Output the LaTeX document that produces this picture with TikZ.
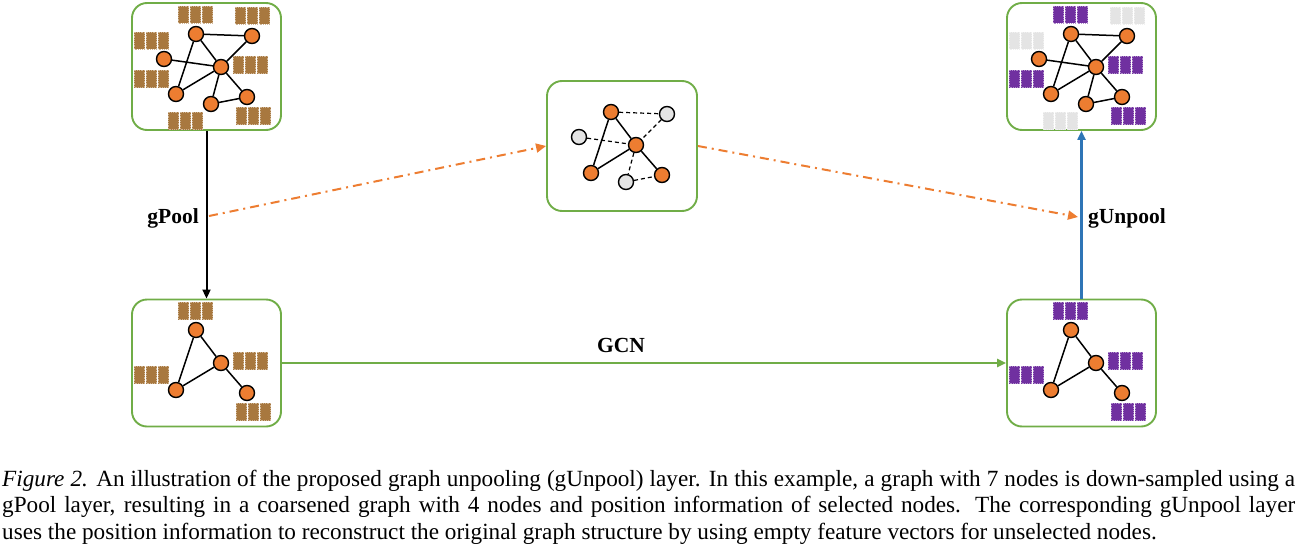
\documentclass[tikz,border=0pt]{standalone}
\usepackage{fontspec}
\setmainfont{Liberation Serif}
\usetikzlibrary{arrows.meta}
\definecolor{boxgreen}{HTML}{70AD47}
\definecolor{nodeorange}{HTML}{ED7D31}
\definecolor{nodegray}{HTML}{E4E4E4}
\definecolor{featbrown}{HTML}{A8783F}
\definecolor{featpurple}{HTML}{7030A0}
\definecolor{featgray}{HTML}{E4E4E4}
\definecolor{arrblue}{HTML}{2E75B6}
\tikzset{
  panel/.style={draw=boxgreen, line width=1.9pt, rounded corners=15pt, minimum width=149pt, minimum height=127pt, inner sep=0pt},
  gn/.style={circle, draw=black, line width=1.4pt, fill=nodeorange, minimum size=15pt, inner sep=0pt},
  gg/.style={gn, fill=nodegray},
  ge/.style={line width=1.5pt},
  gd/.style={line width=1.2pt, dash pattern=on 4pt off 3pt},
  feat/.style={fill=#1, draw=#1!55!white, line width=0.8pt, densely dotted},
  lbl/.style={font=\fontsize{21.5}{24}\selectfont\bfseries, inner sep=0pt},
  captext/.style={font=\fontsize{23.2}{26.5}\selectfont, inner sep=0pt, anchor=base west},
  tip/.style={-{Triangle[length=9pt,width=8pt]}},
  blackarr/.style={tip, line width=2pt, draw=black},
  bluearr/.style={tip, line width=2.5pt, draw=arrblue},
  greenarr/.style={tip, line width=2.2pt, draw=boxgreen},
  orangearr/.style={-{Triangle[length=10pt,width=9pt]}, line width=2pt, draw=nodeorange, dash pattern=on 9pt off 5pt on 2pt off 5pt},
}
\newcommand\fblk[3]{%
  \foreach \k in {0,1,2} {\draw[feat=#3] ({#1+12*\k},#2) rectangle ++(10.5,17.5);}%
}
% full graph: prefix, dx, dy
\newcommand\fullgraph[3]{%
  \node[gn] (#1A) at (196+#2,34+#3) {};
  \node[gn] (#1B) at (252+#2,36+#3) {};
  \node[gn] (#1C) at (164+#2,59+#3) {};
  \node[gn] (#1D) at (221+#2,67+#3) {};
  \node[gn] (#1E) at (176+#2,94+#3) {};
  \node[gn] (#1F) at (211+#2,104+#3) {};
  \node[gn] (#1G) at (247+#2,97+#3) {};
  \draw[ge] (#1A) -- (#1B);
  \draw[ge] (#1A) -- (#1D);
  \draw[ge] (#1A) -- (#1E);
  \draw[ge] (#1B) -- (#1D);
  \draw[ge] (#1C) -- (#1D);
  \draw[ge] (#1D) -- (#1E);
  \draw[ge] (#1D) -- (#1F);
  \draw[ge] (#1D) -- (#1G);
  \draw[ge] (#1F) -- (#1G);
}
\newcommand\smallgraph[3]{%
  \node[gn] (#1A) at (196+#2,34+#3) {};
  \node[gn] (#1D) at (221+#2,67+#3) {};
  \node[gn] (#1E) at (176+#2,94+#3) {};
  \node[gn] (#1G) at (247+#2,97+#3) {};
  \draw[ge] (#1A) -- (#1D);
  \draw[ge] (#1A) -- (#1E);
  \draw[ge] (#1D) -- (#1E);
  \draw[ge] (#1D) -- (#1G);
}
\begin{document}
\begin{tikzpicture}[x=1pt,y=-1pt]
\useasboundingbox (0,0) rectangle (1297,551);
% panels
\node[panel] (tl) at (206.5,66.5) {};
\node[panel] (tr) at (1081.5,66.5) {};
\node[panel] (bl) at (206.5,363) {};
\node[panel] (br) at (1081.5,363) {};
\node[panel, minimum width=150pt, minimum height=130pt] (mid) at (622,146) {};
% top-left features
\fblk{178}{6}{featbrown}
\fblk{235}{7}{featbrown}
\fblk{134}{32}{featbrown}
\fblk{233}{56}{featbrown}
\fblk{134}{70}{featbrown}
\fblk{168}{112}{featbrown}
\fblk{236}{107}{featbrown}
\fullgraph{t}{0}{0}
% top-right features
\fblk{1053}{6}{featpurple}
\fblk{1110}{7}{featgray}
\fblk{1009}{32}{featgray}
\fblk{1108}{56}{featpurple}
\fblk{1009}{70}{featpurple}
\fblk{1043}{112}{featgray}
\fblk{1111}{107}{featpurple}
\fullgraph{r}{875}{0}
% bottom-left
\fblk{178}{302}{featbrown}
\fblk{233}{352}{featbrown}
\fblk{134}{366}{featbrown}
\fblk{236}{403}{featbrown}
\smallgraph{b}{0}{296}
% bottom-right
\fblk{1053}{302}{featpurple}
\fblk{1108}{352}{featpurple}
\fblk{1009}{366}{featpurple}
\fblk{1111}{403}{featpurple}
\smallgraph{s}{875}{296}
% middle graph
\node[gn] (mA) at (611,112) {};
\node[gg] (mB) at (667,114) {};
\node[gg] (mC) at (579,137) {};
\node[gn] (mD) at (636,145) {};
\node[gn] (mE) at (591,173) {};
\node[gg] (mF) at (626,182) {};
\node[gn] (mG) at (662,175) {};
\draw[ge] (mA) -- (mD);
\draw[ge] (mA) -- (mE);
\draw[ge] (mD) -- (mE);
\draw[ge] (mD) -- (mG);
\draw[gd] (mA) -- (mB);
\draw[gd] (mB) -- (mD);
\draw[gd] (mC) -- (mD);
\draw[gd] (mD) -- (mF);
\draw[gd] (mF) -- (mG);
% connectors
\draw[blackarr] (tl.south) -- (bl.north);
\draw[bluearr] (br.north) -- (tr.south);
\draw[greenarr] (bl.east) -- (br.west);
\coordinate (pstart) at (209,216);
\coordinate (uend) at (1078,217);
\draw[orangearr] (pstart) -- (mid.west);
\draw[orangearr] (mid.east) -- (uend);
% labels
\node[lbl, anchor=east] (lpool) at (199,218) {gPool};
\node[lbl, anchor=west] (lunpool) at (1088,218) {gUnpool};
\node[lbl] (lgcn) at (621,345) {GCN};
% caption
\node[captext] (c1) at (2,486) {\makebox[1293pt][s]{\textit{Figure 2.} An illustration of the proposed graph unpooling (gUnpool) layer. In this example, a graph with 7 nodes is down-sampled using a}};
\node[captext] (c2) at (2,512.5) {\makebox[1293pt][s]{gPool layer, resulting in a coarsened graph with 4 nodes and position information of selected nodes. The corresponding gUnpool layer}};
\node[captext] (c3) at (2,539) {uses the position information to reconstruct the original graph structure by using empty feature vectors for unselected nodes.};
\end{tikzpicture}
\end{document}
